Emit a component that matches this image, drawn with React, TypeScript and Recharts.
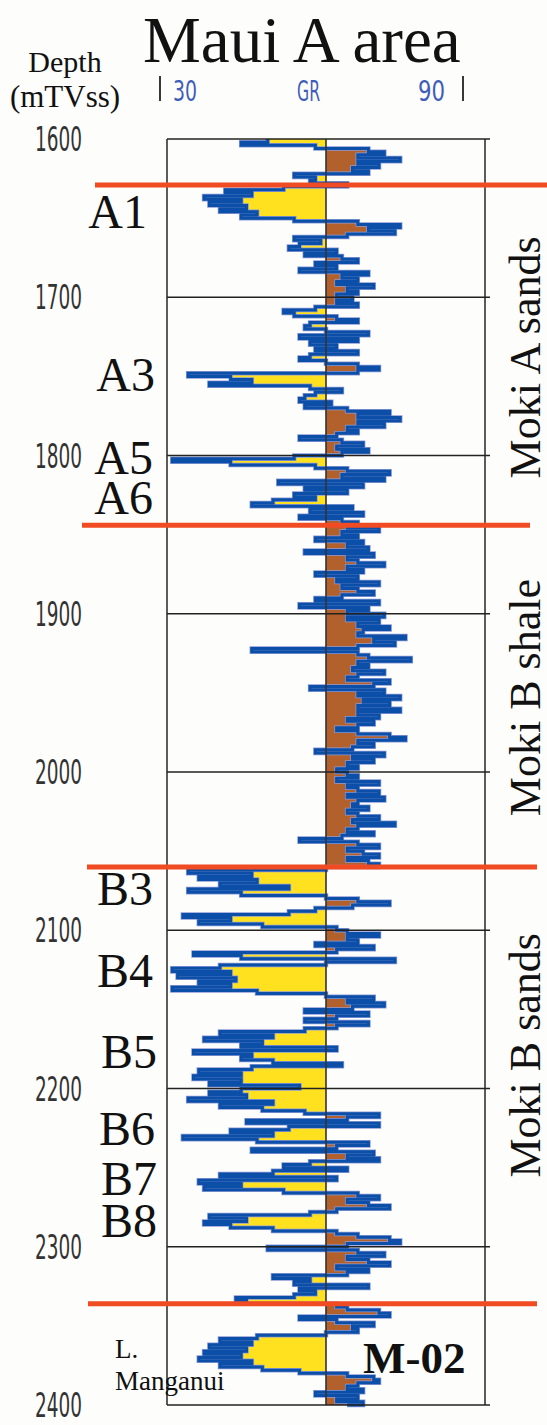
import React from 'react';
import { ComposedChart, Area, Line, XAxis, YAxis, ReferenceLine } from 'recharts';

// ---- data (GR API, sampled every 2 m from 1600 m) ----
const depthStart = 1600;
const depthStep = 2;
const gr1600 = [49,44,58,68,71,66,74,66,70,65, 68,54,58,57,64,52,41,46,37,44, 38,45,40,47,44,54,66,74,68,73, 64,54,59,55,53,62,56,63,66,58, 62,55,68,63,66,62,69,64,66,62];
const gr1700 = [65,62,66,58,52,54,62,66,57,56, 60,68,55,66,57,62,58,66,57,55, 60,66,70,66,34,42,46,38,57,63, 58,56,55,61,56,64,72,66,74,66, 71,64,66,62,55,63,67,62,68,63];
const gr1800 = [54,31,42,58,64,72,63,71,51,67, 56,64,54,58,50,46,65,57,67,55, 63,66,64,70,63,66,58,67,64,68, 56,69,64,66,71,64,67,58,66,62, 70,63,66,69,63,58,70,55,68,64];
const gr1900 = [71,64,70,66,72,67,66,75,69,73, 66,46,66,68,76,66,68,65,71,66, 64,72,69,57,71,66,74,67,72,66, 74,66,70,64,69,66,62,66,72,75, 66,69,65,58,71,65,69,64,66,62];
const gr2000 = [64,66,62,70,64,66,70,64,71,66, 65,68,64,66,70,65,73,66,64,69, 63,55,66,70,64,67,70,64,68,70, 60,34,46,36,47,40,53,34,44,60, 66,72,65,58,53,33,42,36,48,62];
const gr2100 = [64,70,64,66,58,69,62,35,44,73, 60,40,31,42,32,43,36,42,31,47, 60,69,64,71,65,56,68,62,56,68, 62,56,40,50,37,48,44,62,35,46, 44,50,63,46,36,44,35,44,38,55];
const gr2200 = [44,38,45,34,50,40,48,56,70,64, 45,70,53,42,50,33,47,68,62,46, 69,64,70,57,52,64,50,40,62,36, 44,37,52,66,70,64,68,72,62,57, 38,45,37,42,50,62,66,72,74,64];
const gr2300 = [49,66,71,64,68,72,62,68,64,50, 57,54,68,55,58,54,43,45,62,64, 70,72,55,62,69,65,66,60,47,40, 46,38,45,37,44,36,46,40,48,55, 64,69,70,66,64,67,58,66,62,67, 64];

const grCutoff = 60;
const depthTicks = [1600, 1700, 1800, 1900, 2000, 2100, 2200, 2300, 2400];
const gridDepths = [1700, 1800, 1900, 2000, 2100, 2200, 2300];
const formationTops = [1629, 1844, 2060, 2336];
const zoneLabels = ['A1', 'A3', 'A5', 'A6', 'B3', 'B4', 'B5', 'B6', 'B7', 'B8'];
const zoneLabelDepths = [1656, 1759, 1812, 1837, 2084, 2136, 2187, 2236, 2267, 2294];
const formationNames = ['Moki A sands', 'Moki B shale', 'Moki B sands'];
const formationNameDepths = [1738, 1953, 2179];
const grScaleLabels = ['30', 'GR', '90'];

const grValues = [...gr1600, ...gr1700, ...gr1800, ...gr1900, ...gr2000, ...gr2100, ...gr2200, ...gr2300];
const data = grValues.map((gr, i) => ({
  depth: depthStart + i * depthStep,
  gr,
  sand: Math.min(gr, grCutoff),
  shale: Math.max(gr, grCutoff),
}));

// ---- styles ----
const W = 547;
const H = 1425;
const C = {
  yellow: '#FFE11F',
  brown: '#B2602C',
  blue: '#0B4FA8',
  lightBlue: '#8E9BD6',
  red: '#F04B22',
  frame: '#333333',
  scaleText: '#3D5DB8',
};
const serif = '"Liberation Serif", "Times New Roman", serif';
const narrow = '"Liberation Sans Narrow", "DejaVu Sans Condensed", "Liberation Sans", sans-serif';
const redExt = [
  [72, 70],
  [85, 45],
  [80, 52],
  [79, 52],
];
const zoneLabelRight = [147, 155, 153, 153, 153, 153, 157, 155, 157, 157];

const DepthTick = (props: any) => {
  const { y, payload } = props;
  return (
    <text x={82} y={y + 12} textAnchor="end" fontFamily={narrow} fontSize={34} fill="#333"
      textLength={47} lengthAdjust="spacingAndGlyphs">
      {payload.value}
    </text>
  );
};

export default function App() {
  return (
    <div style={{ position: 'absolute', left: 0, top: 0, width: W, height: H, background: '#fdfdfb' }}>
      <ComposedChart
        width={W}
        height={H}
        data={data}
        layout="vertical"
        margin={{ top: 139, right: 62, bottom: 20, left: 67 }}
      >
        <XAxis type="number" dataKey="gr" domain={[30, 90]} hide />
        <YAxis
          type="number"
          dataKey="depth"
          domain={[1600, 2400]}
          ticks={depthTicks}
          width={100}
          axisLine={false}
          tickLine={false}
          tick={<DepthTick />}
          interval={0}
        />
        <Area dataKey="sand" type="stepBefore" baseValue={grCutoff} stroke="none" fill={C.yellow} fillOpacity={1} isAnimationActive={false} />
        <Area dataKey="shale" type="stepBefore" baseValue={grCutoff} stroke="none" fill={C.brown} fillOpacity={1} isAnimationActive={false} />
        <Line dataKey="gr" type="stepBefore" stroke={C.lightBlue} strokeWidth={4.5} dot={false} activeDot={false} isAnimationActive={false} />
        <Line dataKey="gr" type="stepBefore" stroke={C.blue} strokeWidth={3} dot={false} activeDot={false} isAnimationActive={false} />
        <ReferenceLine x={grCutoff} stroke={C.frame} strokeWidth={1.6} />
        <ReferenceLine x={30} stroke={C.frame} strokeWidth={1.6} />
        <ReferenceLine x={90} stroke={C.frame} strokeWidth={1.6} />
        {[1600, 2400, ...gridDepths].map((d) => (
          <ReferenceLine
            key={'g' + d}
            y={d}
            shape={(p: any) => (
              <line x1={p.x1} x2={p.x2 + 5} y1={p.y1} y2={p.y2} stroke="#222" strokeWidth={1.6} />
            )}
          />
        ))}
        {formationTops.map((d, i) => (
          <ReferenceLine
            key={'t' + d}
            y={d}
            shape={(p: any) => (
              <line x1={p.x1 - redExt[i][0]} x2={p.x2 + redExt[i][1]} y1={p.y1} y2={p.y2} stroke={C.red} strokeWidth={5} />
            )}
          />
        ))}
        {zoneLabels.map((label, i) => (
          <ReferenceLine
            key={'z' + label}
            y={zoneLabelDepths[i]}
            shape={(p: any) => (
              <text x={zoneLabelRight[i]} y={p.y1} textAnchor="end" fontFamily={serif} fontSize={48} fill="#111">
                {label}
              </text>
            )}
          />
        ))}
        {formationNames.map((name, i) => (
          <ReferenceLine
            key={'f' + name}
            y={formationNameDepths[i]}
            shape={(p: any) => (
              <text x={540} y={p.y1} transform={`rotate(-90 540 ${p.y1})`} textAnchor="middle"
                fontFamily={serif} fontSize={44} fill="#111">
                {name}
              </text>
            )}
          />
        ))}
      </ComposedChart>
      <svg width={W} height={H} style={{ position: 'absolute', left: 0, top: 0, pointerEvents: 'none' }}>
        <text x={143} y={62} fontFamily={serif} fontSize={65} fill="#111">Maui A area</text>
        <text x={65} y={72} textAnchor="middle" fontFamily={serif} fontSize={30} fill="#111">Depth</text>
        <text x={65} y={107} textAnchor="middle" fontFamily={serif} fontSize={31} fill="#111">(mTVss)</text>
        <line x1={160} x2={160} y1={76} y2={101} stroke="#222" strokeWidth={1.8} />
        <line x1={463} x2={463} y1={76} y2={101} stroke="#222" strokeWidth={1.8} />
        <text x={173} y={101} fontFamily={narrow} fontSize={28} fill={C.scaleText} textLength={24} lengthAdjust="spacingAndGlyphs">{grScaleLabels[0]}</text>
        <text x={297} y={101} fontFamily={narrow} fontSize={28} fill={C.scaleText} textLength={23} lengthAdjust="spacingAndGlyphs">{grScaleLabels[1]}</text>
        <text x={418} y={101} fontFamily={narrow} fontSize={28} fill={C.scaleText} textLength={27} lengthAdjust="spacingAndGlyphs">{grScaleLabels[2]}</text>
        <text x={115} y={1358} fontFamily={serif} fontSize={27} fill="#111">L.</text>
        <text x={115} y={1390} fontFamily={serif} fontSize={27} fill="#111">Manganui</text>
        <text x={363} y={1373} fontFamily={serif} fontSize={45} fontWeight="bold" fill="#111">M-02</text>
      </svg>
    </div>
  );
}
